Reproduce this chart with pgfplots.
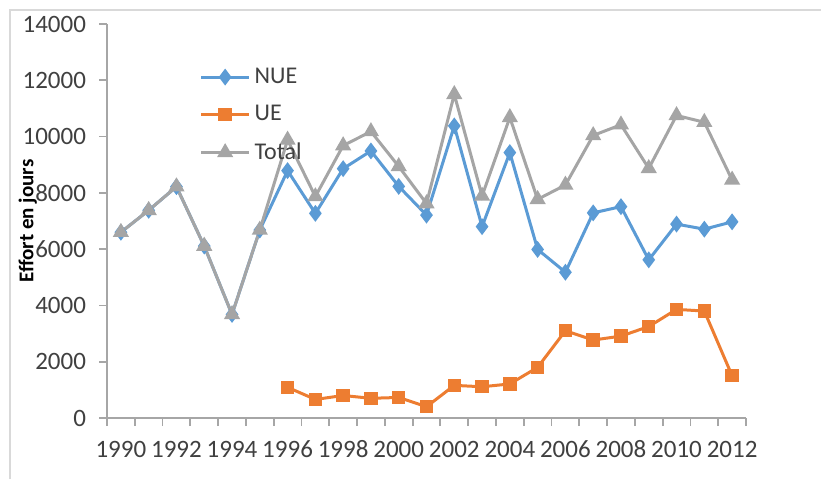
\documentclass[border=0pt]{standalone}
\usepackage{fontspec}
\setmainfont{Carlito}
\usepackage{pgfplots}
\pgfplotsset{compat=1.18}

\definecolor{cNUE}{HTML}{5B9BD5}
\definecolor{cUE}{HTML}{ED7D31}
\definecolor{cTot}{HTML}{A5A5A5}
\definecolor{axisgray}{HTML}{A6A6A6}
\definecolor{txt}{HTML}{404040}

\begin{document}
\begin{tikzpicture}
\useasboundingbox (0,0) rectangle (410.5pt,239.5pt);
% outer frame of the chart area
\draw[black!15, line width=1pt] (5pt,0) -- (5pt,234.75pt) -- (410.5pt,234.75pt);
\begin{axis}[
  at={(53.5pt,30.5pt)}, anchor=south west,
  scale only axis, width=319.5pt, height=197pt,
  xmin=1989.5, xmax=2012.5, ymin=0, ymax=14000,
  axis x line*=bottom, axis y line*=left,
  axis line style={axisgray, line width=0.9pt, -},
  tick style={axisgray, line width=0.9pt},
  tick align=outside, major tick length=4pt,
  xtick={1989.5,1990.5,...,2012.5}, xticklabels={},
  extra x ticks={1990,1992,...,2012},
  extra x tick labels={1990,1992,1994,1996,1998,2000,2002,2004,2006,2008,2010,2012},
  extra x tick style={major tick length=0pt},
  ytick={0,2000,...,14000},
  scaled y ticks=false,
  /pgf/number format/1000 sep={},
  /pgf/number format/assume math mode=true,
  tick label style={font=\fontsize{12.5}{14}\selectfont, text=txt},
  xticklabel style={yshift=-7pt, text height=9pt, text depth=0pt},
  yticklabel style={xshift=-3pt},
  ylabel={Effort en jours},
  ylabel style={at={(axis description cs:-0.124,0.5)}, anchor=center,
                font=\fontsize{10.5}{12}\selectfont\bfseries},
  legend style={draw=none, fill=none, at={(axis description cs:0.135,0.91)},
                anchor=north west, font=\fontsize{12}{14}\selectfont, text=txt,
                row sep=5.5pt, cells={anchor=west}},
  legend image code/.code={\draw[mark repeat=2,mark phase=2,#1]
       plot coordinates {(0pt,0pt)(12pt,0pt)(24pt,0pt)};},
  every axis plot/.append style={line width=1.5pt},
]
\addplot[color=cNUE, mark=diamond*, mark size=3pt, mark options={solid}]
  coordinates {
  (1990,6600) (1991,7380) (1992,8220) (1993,6110) (1994,3680) (1995,6680)
  (1996,8790) (1997,7270) (1998,8860) (1999,9490) (2000,8230) (2001,7210)
  (2002,10380) (2003,6800) (2004,9430) (2005,5990) (2006,5180) (2007,7290)
  (2008,7510) (2009,5620) (2010,6890) (2011,6710) (2012,6970)};
\addlegendentry{NUE}
\addplot[color=cUE, mark=square*, mark size=2.6pt, mark options={solid}]
  coordinates {
  (1996,1090) (1997,660) (1998,800) (1999,700) (2000,730) (2001,400)
  (2002,1160) (2003,1110) (2004,1210) (2005,1800) (2006,3100) (2007,2770)
  (2008,2910) (2009,3250) (2010,3860) (2011,3800) (2012,1500)};
\addlegendentry{UE}
\addplot[color=cTot, mark=triangle*, mark size=3.2pt, mark options={solid}]
  coordinates {
  (1990,6600) (1991,7380) (1992,8220) (1993,6110) (1994,3680) (1995,6680)
  (1996,9880) (1997,7870) (1998,9680) (1999,10180) (2000,8940) (2001,7620)
  (2002,11500) (2003,7890) (2004,10680) (2005,7770) (2006,8280) (2007,10040)
  (2008,10420) (2009,8870) (2010,10750) (2011,10510) (2012,8460)};
\addlegendentry{Total}
\end{axis}
\end{tikzpicture}
\end{document}
